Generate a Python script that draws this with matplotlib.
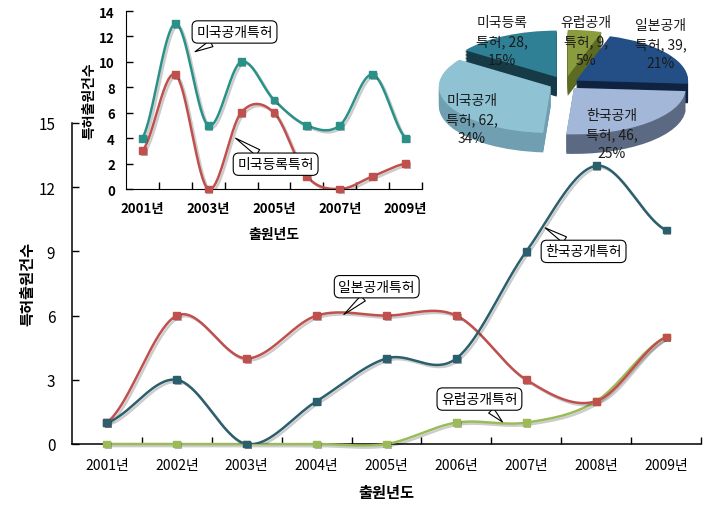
import numpy as np
import matplotlib
matplotlib.use('Agg')
import matplotlib.pyplot as plt
from matplotlib import patheffects as pe

plt.rcParams['font.family'] = ['Noto Sans CJK KR', 'DejaVu Sans']

# ---------------- data ----------------
years = ['2001년', '2002년', '2003년', '2004년', '2005년', '2006년', '2007년', '2008년', '2009년']
kr_pub = [1, 3, 0, 2, 4, 4, 9, 13, 10]     # 한국공개특허
jp_pub = [1, 6, 4, 6, 6, 6, 3, 2, 5]       # 일본공개특허
eu_pub = [0, 0, 0, 0, 0, 1, 1, 2, 5]       # 유럽공개특허
us_pub = [4, 13, 5, 10, 7, 5, 5, 9, 4]     # 미국공개특허
us_reg = [3, 9, 0, 6, 6, 1, 0, 1, 2]       # 미국등록특허

pie_names = ['유럽공개', '일본공개', '한국공개', '미국공개', '미국등록']
pie_values = [9, 39, 46, 62, 28]

main_yticks = [0, 3, 6, 9, 12, 15]
inset_yticks = [0, 2, 4, 6, 8, 10, 12, 14]

# ---------------- helpers ----------------
def smooth(y, n=40):
    y = np.asarray(y, float)
    x = np.arange(len(y), dtype=float)
    m = np.empty_like(y)
    m[1:-1] = (y[2:] - y[:-2]) / 2.0
    m[0] = (y[1] - y[0]) / 2.0
    m[-1] = (y[-1] - y[-2]) / 2.0
    xs, ys = [], []
    t = np.linspace(0, 1, n)
    h00 = 2 * t**3 - 3 * t**2 + 1
    h10 = t**3 - 2 * t**2 + t
    h01 = -2 * t**3 + 3 * t**2
    h11 = t**3 - t**2
    for i in range(len(y) - 1):
        xs.append(x[i] + t)
        ys.append(h00 * y[i] + h10 * m[i] + h01 * y[i + 1] + h11 * m[i + 1])
    return np.concatenate(xs), np.concatenate(ys)

shadow = [pe.SimpleLineShadow(offset=(1.5, -1.5), alpha=0.2), pe.Normal()]

def draw_series(ax, vals, color, lw=1.8, ms=5, clip_line=True):
    xs, ys = smooth(vals)
    ax.plot(xs, ys, color=color, lw=lw, path_effects=shadow, clip_on=clip_line, zorder=3)
    ax.plot(np.arange(len(vals)), vals, ls='none', marker='s', ms=ms, color=color,
            mec=color, clip_on=False, zorder=4,
            path_effects=[pe.SimplePatchShadow(offset=(1.2, -1.2), alpha=0.35), pe.Normal()])

def callout(ax, text, tip, center, fs=10):
    ax.annotate(text, xy=tip, xytext=center, ha='center', va='center', fontsize=fs,
                bbox=dict(boxstyle='round,pad=0.3,rounding_size=0.4', fc='white', ec='black', lw=0.8),
                arrowprops=dict(arrowstyle='wedge,tail_width=0.5,shrink_factor=0.5',
                                fc='white', ec='black', lw=0.8,
                                shrinkA=0, shrinkB=0),
                zorder=6, annotation_clip=False)

def style_cat_axis(ax, yticks):
    ax.spines['top'].set_visible(False)
    ax.spines['right'].set_visible(False)
    ax.set_xlim(-0.5, len(years) - 0.5)
    ax.set_xticks(np.arange(len(years)))
    ax.set_xticks(np.arange(len(years)) + 0.5, minor=True)
    ax.tick_params(axis='x', which='major', length=0)
    ax.tick_params(axis='x', which='minor', length=5, direction='in', width=1)
    ax.set_yticks(yticks)
    ax.tick_params(axis='y', length=5, direction='in', width=1)
    ax.set_ylim(yticks[0], yticks[-1])

# ---------------- figure ----------------
W, H = 712, 510
fig = plt.figure(figsize=(W / 100, H / 100), dpi=100)

def fx(px):
    return px / W

def fy(py):
    return 1 - py / H

# main axes
ax = fig.add_axes([fx(72), fy(445), fx(701) - fx(72), fy(124) - fy(445)])
style_cat_axis(ax, main_yticks)
ax.set_xticklabels(years, fontsize=10)
ax.set_yticklabels([str(v) for v in main_yticks], fontsize=11)
ax.tick_params(axis='x', pad=10)
ax.tick_params(axis='y', pad=12)
ax.spines['left'].set_linewidth(1.1)
ax.spines['bottom'].set_linewidth(1.1)

draw_series(ax, eu_pub, '#9bbb59', clip_line=False)
draw_series(ax, jp_pub, '#c0504d')
draw_series(ax, kr_pub, '#2c5f6e')

ax.set_xlabel('출원년도', fontsize=11, fontweight='bold', labelpad=9)
ax.set_ylabel('특허출원건수', fontsize=11, fontweight='bold', labelpad=2)

callout(ax, '한국공개특허', tip=(6.27, 10.1), center=(6.82, 9.0))
callout(ax, '일본공개특허', tip=(3.39, 6.05), center=(3.86, 7.35))
callout(ax, '유럽공개특허', tip=(5.66, 1.03), center=(5.33, 2.1))

# inset axes
ai = fig.add_axes([fx(126), fy(190), fx(422) - fx(126), fy(12) - fy(190)])
ai.patch.set_alpha(0)
style_cat_axis(ai, inset_yticks)
ai.set_xticklabels([y if i % 2 == 0 else '' for i, y in enumerate(years)],
                   fontsize=9.5, fontweight='bold')
ai.set_yticklabels([str(v) for v in inset_yticks], fontsize=9.5, fontweight='bold')
ai.tick_params(axis='x', pad=9)
ai.tick_params(axis='y', pad=8)
draw_series(ai, us_pub, '#2a9188', lw=1.8, ms=5)
draw_series(ai, us_reg, '#c0504d', lw=1.8, ms=5)
ai.set_xlabel('출원년도', fontsize=10, fontweight='bold', labelpad=8)
ai.set_ylabel('특허출원건수', fontsize=10, fontweight='bold', labelpad=2)
callout(ai, '미국공개특허', tip=(1.6, 10.8), center=(2.8, 12.35))
callout(ai, '미국등록특허', tip=(2.83, 4.0), center=(4.05, 1.95))

# 3D-looking pie
ap = fig.add_axes([fx(425), fy(160), fx(705) - fx(425), fy(28) - fy(160)])
top_colors = ['#8a9c3e', '#234f86', '#a3b8d8', '#8fc3d4', '#2f7f95']
side_colors = ['#5d6b22', '#0f2340', '#5b6a82', '#6f9fb1', '#163b46']
explode = [0.16, 0.12, 0.12, 0.14, 0.16]
depth = 0.42
nl = 14
for k in range(nl, 0, -1):
    off = depth * k / nl
    ap.pie(pie_values, colors=side_colors, startangle=90, counterclock=False,
           explode=explode, center=(0, -off), radius=1.0,
           wedgeprops=dict(lw=0), frame=True)
ap.pie(pie_values, colors=top_colors, startangle=90, counterclock=False,
       explode=explode, center=(0, 0), radius=1.0, wedgeprops=dict(lw=0), frame=True)
ap.set_axis_off()
ap.set_xlim(-1.25, 1.25)
ap.set_ylim(-1.62, 1.22)
ap.set_aspect('auto')

total = sum(pie_values)
label_pos = [(586, 42), (661, 45), (612, 135), (472, 120), (502, 42)]
for name, v, (px, py) in zip(pie_names, pie_values, label_pos):
    pct = round(100 * v / total)
    fig.text(fx(px), fy(py), f'{name}\n특허, {v},\n{pct}%', ha='center', va='center',
             fontsize=10, linespacing=1.45, color='#1a1a1a', zorder=10)

fig.savefig('out.png', dpi=100)
